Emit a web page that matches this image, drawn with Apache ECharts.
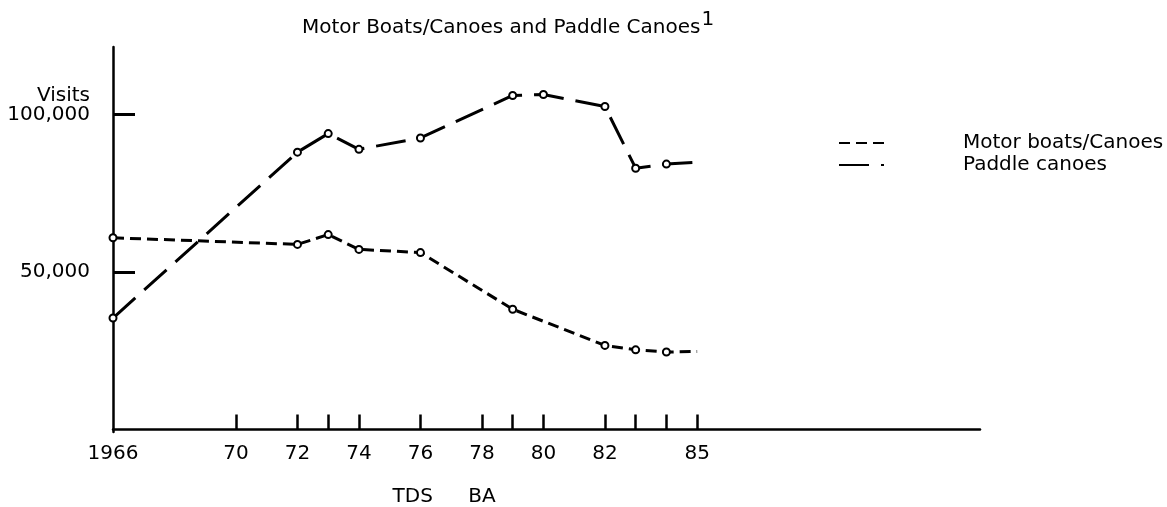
<!DOCTYPE html>
<html><head><meta charset="utf-8">
<script src="https://cdn.jsdelivr.net/npm/echarts@6/dist/echarts.min.js"></script>
<style>html,body{margin:0;padding:0;background:#fff}#c{width:1167px;height:507px}</style>
</head><body><div id="c"></div>
<script>
const seriesNames = ['Motor boats/Canoes', 'Paddle canoes'];
const motorYears = [1966, 1972, 1973, 1974, 1976, 1979, 1982, 1983, 1984, 1985];
const motorValues = [60900, 58800, 61900, 57200, 56200, 38200, 26700, 25300, 24600, 24800];
const paddleYears = [1966, 1972, 1973, 1974, 1976, 1979, 1980, 1982, 1983, 1984, 1985];
const paddleValues = [35400, 88100, 94000, 89000, 92600, 106100, 106400, 102600, 83000, 84300, 84900];
const xTickYears = [1970, 1972, 1973, 1974, 1976, 1978, 1979, 1980, 1982, 1983, 1984, 1985];
const xLabelYears = [1966, 1970, 1972, 1974, 1976, 1978, 1980, 1982, 1985];
const yTickValues = [50000, 100000];
const noteYears = [1975.75, 1978];
const noteLabels = ['TDS', 'BA'];
const titleText = 'Motor Boats/Canoes and Paddle Canoes';
const footnoteMark = '1';
const yAxisTitle = 'Visits';

const FONT = 'DejaVu Sans';
const INK = '#000';

function pts(xs, vs) {
  return xs.map((x, i) => ({
    value: [x, vs[i]],
    symbol: i === xs.length - 1 ? 'none' : 'circle'
  }));
}

const chart = echarts.init(document.getElementById('c'), null, {renderer: 'canvas'});
chart.setOption({
  animation: false,
  backgroundColor: '#fff',
  textStyle: {fontFamily: FONT, color: INK},
  title: {
    text: '{t|' + titleText + '}{s|' + footnoteMark + '}',
    left: 302, top: 16, padding: 0,
    textStyle: {
      fontWeight: 'normal',
      rich: {
        t: {fontFamily: FONT, fontSize: 20, fontWeight: 'normal', color: INK, lineHeight: 22, verticalAlign: 'bottom'},
        s: {fontFamily: FONT, fontSize: 20, fontWeight: 'normal', color: INK, lineHeight: 22, padding: [0, 0, 14, 1]}
      }
    }
  },
  legend: {
    orient: 'vertical', left: 833, top: 128,
    itemWidth: 45, itemHeight: 12, itemGap: 2,
    data: seriesNames,
    itemStyle: {opacity: 0},
    textStyle: {fontFamily: FONT, fontSize: 20, color: INK, lineHeight: 20, padding: [0, 0, 0, 74]}
  },
  grid: {left: 113, top: 47, right: 187, bottom: 75, containLabel: false},
  xAxis: [{
    type: 'value', min: 1966, max: 1994.2,
    axisLine: {show: true, lineStyle: {color: INK, width: 2.5}},
    axisTick: {show: true, inside: true, length: 15, customValues: xTickYears, lineStyle: {color: INK, width: 2.5}},
    axisLabel: {
      customValues: xLabelYears, margin: 12, fontSize: 20, fontFamily: FONT, color: INK,
      formatter: v => v === 1966 ? '1966' : String(v % 100)
    },
    splitLine: {show: false}
  }, {
    type: 'value', min: 1966, max: 1994.2, position: 'bottom', offset: 43,
    axisLine: {show: false}, axisTick: {show: false}, splitLine: {show: false},
    axisLabel: {
      customValues: noteYears, margin: 12, fontSize: 20, fontFamily: FONT, color: INK,
      formatter: v => noteLabels[noteYears.indexOf(v)]
    }
  }],
  yAxis: {
    type: 'value', min: -800, max: 121500,
    axisLine: {show: true, lineStyle: {color: INK, width: 2.5}},
    axisTick: {show: true, inside: true, length: 22, customValues: yTickValues, lineStyle: {color: INK, width: 3}},
    axisLabel: {
      customValues: yTickValues, margin: 23, fontSize: 20, fontFamily: FONT, color: INK, lineHeight: 19,
      formatter: v => v === 100000 ? yAxisTitle + '\n' + v.toLocaleString('en-US') + '\n' : v.toLocaleString('en-US')
    },
    splitLine: {show: false}
  },
  series: [{
    name: seriesNames[0], type: 'line', xAxisIndex: 0,
    data: pts(motorYears, motorValues),
    symbolSize: 7,
    lineStyle: {color: INK, width: 3, type: [11, 6]},
    itemStyle: {color: '#fff', borderColor: INK, borderWidth: 2}
  }, {
    name: seriesNames[1], type: 'line', xAxisIndex: 0,
    data: pts(paddleYears, paddleValues),
    symbolSize: 7,
    lineStyle: {color: INK, width: 3, type: [30, 12]},
    itemStyle: {color: '#fff', borderColor: INK, borderWidth: 2}
  }]
});
</script></body></html>
